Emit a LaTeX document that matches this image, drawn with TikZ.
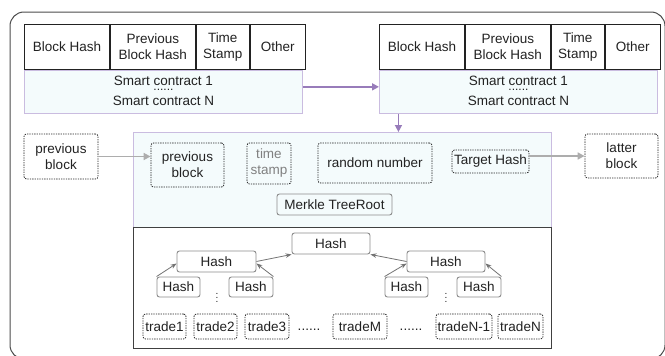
\documentclass[tikz,border=0pt]{standalone}
\usepackage{fontspec}
\setmainfont{Liberation Sans}
\usetikzlibrary{arrows.meta}
\definecolor{chainfill}{RGB}{244,251,252}
\definecolor{chainedge}{RGB}{202,188,224}
\definecolor{chainlink}{RGB}{152,124,186}
\definecolor{txt}{RGB}{34,34,34}
\tikzset{
  cell/.style={draw=txt, line width=0.9pt, minimum height=45, inner sep=0, align=center, anchor=north west, text=txt},
  contract/.style={draw=chainedge, fill=chainfill, line width=0.9pt, minimum width=278, minimum height=43, inner sep=0, anchor=north west},
  dot box/.style={draw=txt, dash pattern=on 1.3pt off 1.1pt, line width=0.8pt, rounded corners=2.5, inner sep=0, align=center, text=txt},
  hash box/.style={draw=black!45, line width=0.9pt, rounded corners=2.5, inner sep=0, text=txt},
  plain text/.style={text=txt, inner sep=0},
  link/.style={chainlink, line width=1.6pt, -{Triangle[length=7pt,width=7pt]}},
  feed/.style={black!32, line width=1.6pt, -{Triangle[length=7pt,width=7pt]}},
  tree edge/.style={black!55, line width=0.8pt, -{Stealth[length=6pt,width=4.5pt]}}
}

\begin{document}
\begin{tikzpicture}[x=1pt, y=-1pt, font=\fontsize{13.5}{16}\selectfont]

    \useasboundingbox (0,0) rectangle (665,356);
    \draw[black!70, line width=1pt, rounded corners=14] (10,12) rectangle (665,359);

    % two chained blocks: header cells over the contract area
    \foreach \bx/\bn in {24/l,379/r}{
        \node[cell, minimum width=85] (hash\bn)  at (\bx,24)            {Block Hash};
        \node[cell, minimum width=85] (prev\bn)  at (hash\bn.north east) {Previous\\Block Hash};
        \node[cell, minimum width=53] (time\bn)  at (prev\bn.north east) {Time\\Stamp};
        \node[cell, minimum width=55] (other\bn) at (time\bn.north east) {Other};
        \node[contract] (sc\bn) at (hash\bn.south west) {};
        \node[plain text] (scone\bn) at ([yshift=-11]sc\bn.north) {Smart contract 1};
        \node[plain text, anchor=base, font=\fontsize{12}{12}\selectfont] (scdots\bn) at ([yshift=-20.5]sc\bn.north) {......};
        \node[plain text] (scn\bn) at ([yshift=-31]sc\bn.north) {Smart contract N};
    }
    \draw[link] ([yshift=5]scl.east) -- ([yshift=5]scl.east -| scr.west);

    \node[contract, minimum width=418, minimum height=95] (body) at (133,132) {};
    \node[draw=black!75, fill=white, line width=0.9pt, minimum width=418, minimum height=121, anchor=north west, inner sep=0] (tree) at (133,227) {};
    \draw[link] ([xshift=-120]scr.south) -- ([xshift=-120]scr.south |- body.north);

    \node[dot box, minimum width=74, minimum height=45] (prevout) at (61,156.5)    {previous\\block};
    \node[dot box, minimum width=73, minimum height=44] (previn)  at (187.5,165)   {previous\\block};
    \node[dot box, minimum width=44, minimum height=41, text=black!50] (stamp) at (269,163.5) {time\\stamp};
    \node[dot box, minimum width=114, minimum height=40] (rand)   at (375,163)     {random number};
    \node[dot box, minimum width=77, minimum height=23] (target)   at (490.5,161.5) {Target Hash};
    \node[dot box, minimum width=73, minimum height=44] (latter)  at (621.5,156)   {latter\\block};
    \node[hash box, minimum width=115, minimum height=21] (root)  at (334.5,204.5) {Merkle TreeRoot};

    \draw[feed] (prevout.east) -- (prevout.east -| previn.west);
    \draw[feed] (target.east |- latter.west) -- (latter.west);

    % merkle tree
    \node[hash box, minimum width=78, minimum height=21] (htop) at (331,243.5)   {Hash};
    \node[hash box, minimum width=79, minimum height=21] (hl)   at (216.5,261.5) {Hash};
    \node[hash box, minimum width=78, minimum height=21] (hr)   at (446,261.5)   {Hash};
    \node[hash box, minimum width=43, minimum height=20] (hla)  at (178.5,287)   {Hash};
    \node[hash box, minimum width=44, minimum height=20] (hlb)  at (251,287)     {Hash};
    \node[hash box, minimum width=43, minimum height=20] (hra)  at (406.5,287)   {Hash};
    \node[hash box, minimum width=44, minimum height=20] (hrb)  at (479,287)     {Hash};
    \node[plain text, anchor=base, font=\fontsize{10}{10}\selectfont] (vdl) at (217,302.5) {$\vdots$};
    \node[plain text, anchor=base, font=\fontsize{10}{10}\selectfont] (vdr) at (446,302.5) {$\vdots$};

    \draw[tree edge] (hla.north west) -- ([yshift=-2]hl.west);
    \draw[tree edge] (hlb.north east) -- ([yshift=-2]hl.east);
    \draw[tree edge] (hra.north west) -- ([yshift=-2]hr.west);
    \draw[tree edge] (hrb.north east) -- ([yshift=-2]hr.east);
    \draw[tree edge] (hl.east) -- (htop.south west);
    \draw[tree edge] (hr.west) -- (htop.south east);

    \foreach \tn/\tx/\tw/\tl in {ta/164.5/43/trade1, tb/215.5/43/trade2, tc/267/44/trade3,
                                 tm/360/54/tradeM, tnm/464/56/tradeN-1, tn/520.5/45/tradeN}
        \node[dot box, minimum width=\tw, minimum height=25] (\tn) at (\tx,326.5) {\tl};
    \node[plain text, anchor=base] (hda) at (309,330) {......};
    \node[plain text, anchor=base] (hdb) at (411,330) {......};

\end{tikzpicture}
\end{document}
